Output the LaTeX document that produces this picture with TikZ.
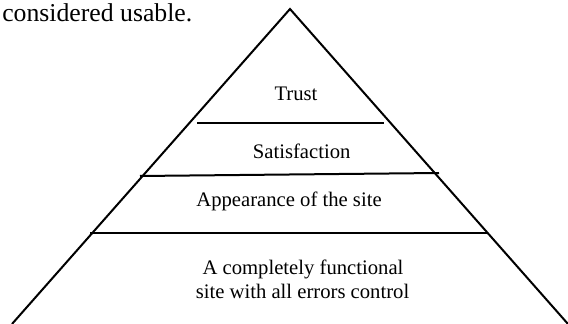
\documentclass[tikz,border=0pt]{standalone}
\usepackage{fontspec}
\setmainfont{Liberation Serif}
\begin{document}
\begin{tikzpicture}[x=0.75pt,y=-0.75pt,
  edge/.style={line width=1.5pt,black},
  level/.style={line width=1.5pt,black},
  lab/.style={font=\fontsize{15.5}{18.75}\selectfont,anchor=base,inner sep=0pt},
  body/.style={font=\fontsize{19.3}{23}\selectfont,anchor=base west,inner sep=0pt}]
\useasboundingbox (0,0) rectangle (568,324);
% pyramid outline
\coordinate (apex) at (290,9);
\coordinate (bl) at (12,324);
\coordinate (br) at (568,324);
\draw[edge,line join=miter] (bl) -- (apex) -- (br);
% level lines
\coordinate (t1) at (197,123);
\coordinate (t2) at (384,123);
\coordinate (s1) at (140,176);
\coordinate (s2) at (439,173);
\coordinate (a1) at (90,233);
\coordinate (a2) at (487,233);
\draw[level] (t1) -- (t2);
\draw[level] (s1) -- (s2);
\draw[level] (a1) -- (a2);
% texts
\node[body] (intro) at (2,22) {considered usable.};
\node[lab] (trust) at (296,100.7) {Trust};
\node[lab] (sat) at (301.7,158.3) {Satisfaction};
\node[lab] (app) at (289,206.7) {Appearance of the site};
\node[lab] (func1) at (303,274) {A completely functional};
\node[lab] (func2) at (302.5,299) {site with all errors control};
\end{tikzpicture}
\end{document}
